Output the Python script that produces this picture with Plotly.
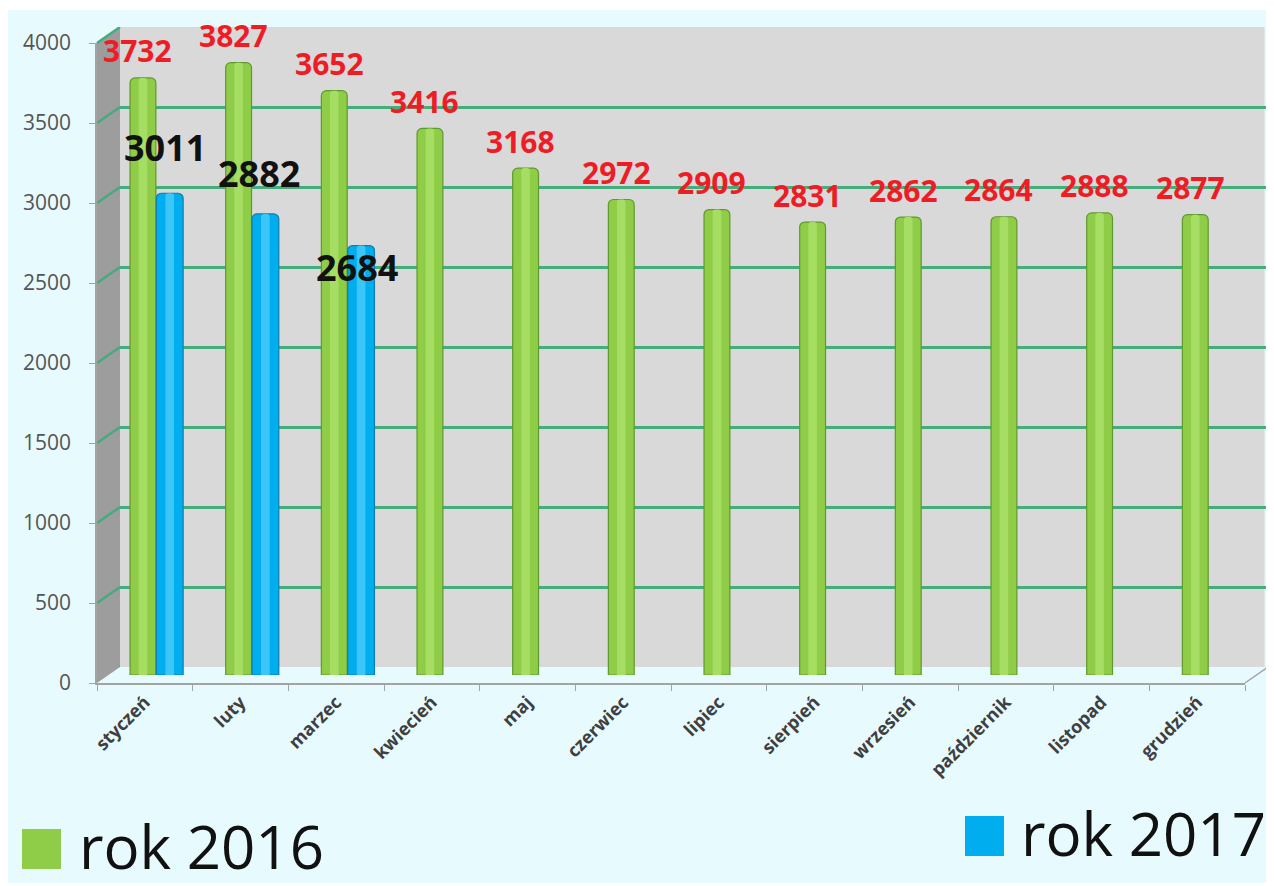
import plotly.graph_objects as go

# ---------------- data ----------------
months = ["styczeń", "luty", "marzec", "kwiecień", "maj", "czerwiec",
          "lipiec", "sierpień", "wrzesień", "październik", "listopad", "grudzień"]
values_2016 = [3732, 3827, 3652, 3416, 3168, 2972, 2909, 2831, 2862, 2864, 2888, 2877]
values_2017 = [3011, 2882, 2684, None, None, None, None, None, None, None, None, None]
series_names = ["rok 2016", "rok 2017"]
y_ticks = [0, 500, 1000, 1500, 2000, 2500, 3000, 3500, 4000]

# ---------------- styling ----------------
OX, OY = 8, 8                 # default page body margin
W, H = 1274 - OX, 886 - OY
FONT = "Open Sans"
GREEN = "#8fcc47"
GREEN_EDGE = "#5f9a2c"
GREEN_HI = "#a6dd63"
BLUE = "#00aeef"
BLUE_EDGE = "#0a7fb0"
BLUE_HI = "#3cc6f7"
GRID = "#43ad7c"
AXIS = "#a3a3a3"
BG = "#e7fafd"


def px(x):
    return (x - OX) / W


def py(y):
    return 1 - (y - OY) / H


G_OFF, G_W = -0.275, 0.27     # green bar offset / width (category units)
B_OFF, B_W = 0.0, 0.28        # blue bar offset / width

fig = go.Figure()

# back wall subplot (xy) – gridlines only
fig.add_trace(go.Scatter(x=[], y=[], xaxis="x", yaxis="y", showlegend=False, hoverinfo="skip"))
# front axes subplot (x2y2) – tick labels
fig.add_trace(go.Scatter(x=months, y=[None] * len(months), xaxis="x2", yaxis="y2",
                         mode="markers", showlegend=False, hoverinfo="skip"))

# bars (x3y3)
fig.add_trace(go.Bar(x=months, y=values_2016, name=series_names[0], xaxis="x3", yaxis="y3",
                     offset=G_OFF, width=G_W,
                     marker=dict(color=GREEN, line=dict(color=GREEN_EDGE, width=1.2), cornerradius=5),
                     showlegend=False))
fig.add_trace(go.Bar(x=months, y=values_2016, xaxis="x3", yaxis="y3",
                     offset=G_OFF + 0.09, width=0.09,
                     marker=dict(color=GREEN_HI, line=dict(width=0), cornerradius=3),
                     showlegend=False, hoverinfo="skip"))
fig.add_trace(go.Bar(x=months, y=values_2017, name=series_names[1], xaxis="x3", yaxis="y3",
                     offset=B_OFF, width=B_W,
                     marker=dict(color=BLUE, line=dict(color=BLUE_EDGE, width=1.2), cornerradius=5),
                     showlegend=False))
fig.add_trace(go.Bar(x=months, y=values_2017, xaxis="x3", yaxis="y3",
                     offset=B_OFF + 0.095, width=0.09,
                     marker=dict(color=BLUE_HI, line=dict(width=0), cornerradius=3),
                     showlegend=False, hoverinfo="skip"))

shapes = []
# page background
shapes.append(dict(type="rect", xref="paper", yref="paper", x0=px(7), x1=px(1268), y0=py(883), y1=py(10),
                   fillcolor=BG, line=dict(width=0), layer="below"))
# side wall
shapes.append(dict(type="path", xref="paper", yref="paper",
                   path=f"M {px(97)} {py(43)} L {px(120)} {py(27)} L {px(120)} {py(667)} L {px(97)} {py(683)} Z",
                   fillcolor="#9d9d9d", line=dict(width=0), layer="below"))
# back wall
shapes.append(dict(type="rect", xref="x domain", yref="y domain", x0=0, x1=0.997, y0=0, y1=1,
                   fillcolor="#d9d9d9", line=dict(width=0), layer="below"))
# diagonals across the side wall at each gridline
for v in y_ticks:
    shapes.append(dict(type="line", xref="paper", x0=px(97), x1=px(120),
                       yref="y", ysizemode="pixel", yanchor=v, y0=-16, y1=0,
                       line=dict(color=GRID, width=2.5), layer="below"))
# right floor edge
shapes.append(dict(type="line", xref="paper", yref="paper", x0=px(1245), y0=py(683), x1=px(1268), y1=py(667),
                   line=dict(color=AXIS, width=1.5), layer="below"))
# legend squares
shapes.append(dict(type="rect", xref="paper", yref="paper", x0=px(22), x1=px(61), y0=py(869), y1=py(829),
                   fillcolor=GREEN, line=dict(width=0)))
shapes.append(dict(type="rect", xref="paper", yref="paper", x0=px(965), x1=px(1004), y0=py(856), y1=py(816),
                   fillcolor=BLUE, line=dict(width=0)))

annotations = []
g_center = G_OFF + G_W / 2
b_center = B_OFF + B_W / 2
for i, v in enumerate(values_2016):
    annotations.append(dict(x=i + g_center, y=v, xref="x3", yref="y3", text=str(v), showarrow=False,
                            xshift=-5, yshift=27, yanchor="middle",
                            font=dict(family=FONT, size=30, color="#ee1c25", weight="bold")))
label_shift_2017 = [(-5, 46), (-6, 40), (-4, -22)]
for i, v in enumerate(values_2017):
    if v is None:
        continue
    dx, dy = label_shift_2017[i]
    annotations.append(dict(x=i + b_center, y=v, xref="x3", yref="y3", text=str(v), showarrow=False,
                            xshift=dx, yshift=dy, yanchor="middle",
                            font=dict(family=FONT, size=36, color="#111111", weight="bold")))
# legend texts
annotations.append(dict(x=px(77), y=py(846), xref="paper", yref="paper", text=series_names[0],
                        showarrow=False, xanchor="left", yanchor="middle",
                        font=dict(family=FONT, size=60, color="#111111")))
annotations.append(dict(x=px(1019), y=py(833), xref="paper", yref="paper", text=series_names[1],
                        showarrow=False, xanchor="left", yanchor="middle",
                        font=dict(family=FONT, size=60, color="#111111")))

fig.update_layout(
    width=W, height=H,
    margin=dict(l=0, r=0, t=0, b=0, autoexpand=False),
    paper_bgcolor="white",
    plot_bgcolor="rgba(0,0,0,0)",
    barmode="overlay",
    showlegend=False,
    font=dict(family=FONT),
    xaxis=dict(domain=[px(120), px(1268)], anchor="y", range=[0, 1], visible=False),
    yaxis=dict(domain=[py(667), py(27)], anchor="x", range=[0, 4000], tickvals=y_ticks,
               showgrid=True, gridcolor=GRID, gridwidth=3, showticklabels=False, ticks="",
               zeroline=False, showline=False),
    xaxis2=dict(domain=[px(97), px(1245)], anchor="y2", type="category",
                categoryorder="array", categoryarray=months, range=[-0.5, len(months) - 0.5],
                tickangle=-45, tickson="boundaries", ticks="outside", ticklen=6, tickcolor=AXIS,
                showline=True, linecolor=AXIS, linewidth=1.5, showgrid=False, automargin=False,
                tickfont=dict(family=FONT, size=18, color="#3f3f3f", weight="bold")),
    yaxis2=dict(domain=[py(683), py(43)], anchor="x2", range=[0, 4000], tickvals=y_ticks,
                ticks="outside", ticklen=6, tickcolor=AXIS, showline=True, linecolor=AXIS, linewidth=1.5,
                showgrid=False, zeroline=False, ticklabelstandoff=14, automargin=False,
                tickfont=dict(family=FONT, size=21, color="#555555")),
    xaxis3=dict(domain=[px(108.5), px(1256.5)], anchor="y3", type="category",
                categoryorder="array", categoryarray=months, range=[-0.5, len(months) - 0.5],
                visible=False),
    yaxis3=dict(domain=[py(675), py(35)], anchor="x3", range=[0, 4000], visible=False),
    shapes=shapes,
    annotations=annotations,
)

fig.write_html("out.html")
